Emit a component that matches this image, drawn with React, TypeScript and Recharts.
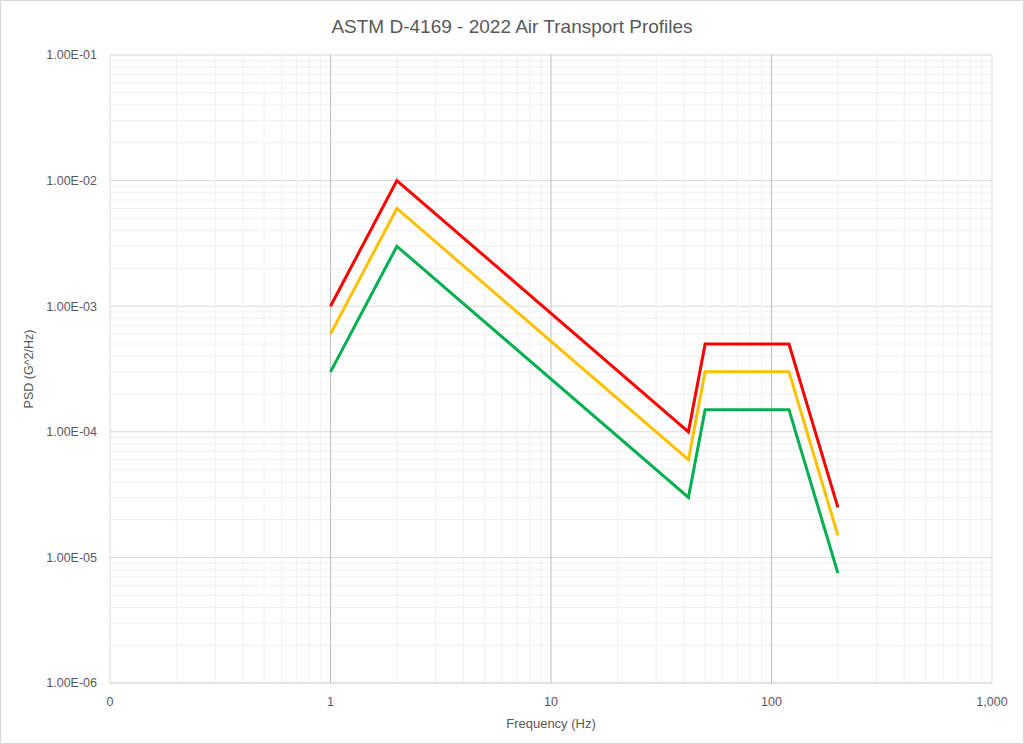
import React from "react";
import {
  LineChart,
  Line,
  XAxis,
  YAxis,
  CartesianGrid,
  ReferenceLine,
  Label,
} from "recharts";

const frequencies = [1, 2, 42, 50, 120, 200];
const redPsd = [1e-3, 1e-2, 1e-4, 5e-4, 5e-4, 2.5e-5];
const yellowPsd = [6e-4, 6e-3, 6e-5, 3e-4, 3e-4, 1.5e-5];
const greenPsd = [3e-4, 3e-3, 3e-5, 1.5e-4, 1.5e-4, 7.5e-6];

const xTicks = [0.1, 1, 10, 100, 1000];
const yTicks = [1e-6, 1e-5, 1e-4, 1e-3, 1e-2, 1e-1];
const xTickLabels: Record<string, string> = {
  "0.1": "0",
  "1": "1",
  "10": "10",
  "100": "100",
  "1000": "1,000",
};

const minorMultipliers = [2, 3, 4, 5, 6, 7, 8, 9];
const xMinor: number[] = [];
[0.1, 1, 10, 100].forEach((d) =>
  minorMultipliers.forEach((m) => xMinor.push(+(d * m).toPrecision(3)))
);
const yMinor: number[] = [];
[1e-6, 1e-5, 1e-4, 1e-3, 1e-2].forEach((d) =>
  minorMultipliers.forEach((m) => yMinor.push(+(d * m).toPrecision(3)))
);

const data = frequencies.map((f, i) => ({
  f,
  red: redPsd[i],
  yellow: yellowPsd[i],
  green: greenPsd[i],
}));

const FONT = "'Liberation Sans', Arial, sans-serif";
const TEXT = "#595959";

const fmtY = (v: number) => {
  const e = Math.round(Math.log10(v));
  const sign = e < 0 ? "-" : "+";
  const abs = Math.abs(e).toString().padStart(2, "0");
  return `1.00E${sign}${abs}`;
};

export default function App() {
  return (
    <div
      style={{
        position: "absolute",
        left: 0,
        top: 0,
        width: 1024,
        height: 744,
        background: "#fff",
        fontFamily: FONT,
      }}
    >
      <div
        style={{
          position: "absolute",
          left: 0,
          top: 0,
          width: 1022,
          height: 742,
          border: "1px solid #d9d9d9",
        }}
      />
      <div
        style={{
          position: "absolute",
          left: 0,
          top: 16,
          width: 1024,
          textAlign: "center",
          fontSize: 19,
          color: TEXT,
          fontFamily: FONT,
        }}
      >
        ASTM D-4169 - 2022 Air Transport Profiles
      </div>
      <div style={{ position: "absolute", left: 0, top: 0 }}>
        <LineChart
          width={1024}
          height={744}
          data={data}
          margin={{ top: 55, right: 32, bottom: 11, left: 0 }}
        >
          {xMinor.map((v) => (
            <ReferenceLine
              key={"xm" + v}
              x={v}
              stroke="#f0f0f0"
              strokeWidth={1}
            />
          ))}
          {yMinor.map((v) => (
            <ReferenceLine
              key={"ym" + v}
              y={v}
              stroke="#f0f0f0"
              strokeWidth={1}
            />
          ))}
          <CartesianGrid stroke="#d9d9d9" vertical={false} />
          {xTicks.slice(1, 4).map((v) => (
            <ReferenceLine key={"xM" + v} x={v} stroke="#bfbfbf" strokeWidth={1} />
          ))}
          <ReferenceLine x={1000} stroke="#d9d9d9" />
          <XAxis
            dataKey="f"
            type="number"
            scale="log"
            domain={[0.1, 1000]}
            ticks={xTicks}
            allowDataOverflow
            height={50}
            stroke="#d9d9d9"
            tickLine={false}
            tick={{ fill: TEXT, fontSize: 12.5, fontFamily: FONT }}
            tickMargin={8}
            tickFormatter={(v: number) => xTickLabels[String(v)] ?? String(v)}
          >
            <Label
              value="Frequency (Hz)"
              position="insideBottom"
              offset={5}
              style={{ fill: TEXT, fontSize: 13, fontFamily: FONT }}
            />
          </XAxis>
          <YAxis
            type="number"
            scale="log"
            domain={[1e-6, 1e-1]}
            ticks={yTicks}
            allowDataOverflow
            width={110}
            stroke="#d9d9d9"
            tickLine={false}
            tick={{ fill: TEXT, fontSize: 12.5, fontFamily: FONT }}
            tickMargin={7}
            tickFormatter={fmtY}
          >
            <Label
              value="PSD (G^2/Hz)"
              angle={-90}
              position="insideLeft"
              offset={29}
              style={{ fill: TEXT, fontSize: 12.5, fontFamily: FONT, textAnchor: "middle" }}
            />
          </YAxis>
          <Line
            dataKey="red"
            stroke="#ff0000"
            strokeWidth={3}
            dot={false}
            isAnimationActive={false}
          />
          <Line
            dataKey="yellow"
            stroke="#ffc000"
            strokeWidth={3}
            dot={false}
            isAnimationActive={false}
          />
          <Line
            dataKey="green"
            stroke="#00b050"
            strokeWidth={3}
            dot={false}
            isAnimationActive={false}
          />
        </LineChart>
      </div>
    </div>
  );
}
